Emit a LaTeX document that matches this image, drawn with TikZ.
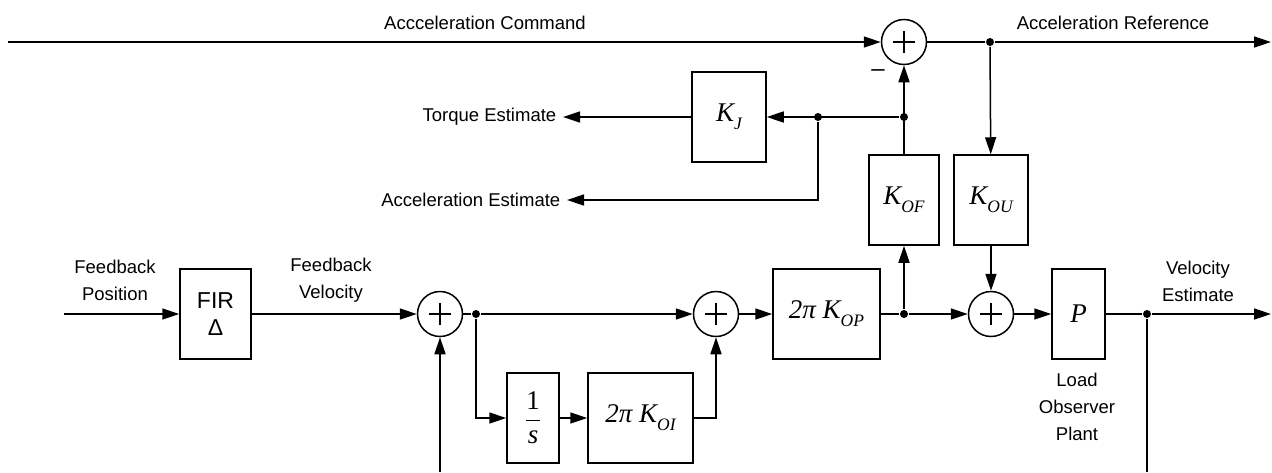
\documentclass[tikz,border=0pt]{standalone}
\usepackage{fontspec}
\setmainfont{Liberation Sans}
\newfontfamily\tms{Liberation Serif}
\usetikzlibrary{arrows.meta}

\newcommand{\gainsym}[2]{{\tms\itshape #1\raisebox{-0.3em}{\fontsize{17.5}{17.5}\selectfont #2}}}

\tikzset{
  blk/.style={draw, line width=1.5pt, minimum width=#1, minimum height=90pt,
    inner sep=0pt, font=\fontsize{27}{27}\selectfont},
  sumj/.style={circle, draw, line width=1.5pt, minimum size=45pt, inner sep=0pt,
    path picture={\draw[line width=1.2pt]
      ([xshift=-11pt]path picture bounding box.center) -- ([xshift=11pt]path picture bounding box.center)
      ([yshift=-11pt]path picture bounding box.center) -- ([yshift=11pt]path picture bounding box.center);}},
  jdot/.style={circle, fill, minimum size=8pt, inner sep=0pt},
  lbl/.style={font=\fontsize{18.5}{27}\selectfont, align=center}
}

\begin{document}
\begin{tikzpicture}[x=1pt, y=1pt, line width=1.5pt, >={Triangle[length=17pt,width=11pt]}]
\useasboundingbox (0,0) rectangle (1272,-472);

% summing points
\node[sumj] (sumacc) at (904,-42) {};
\node[sumj] (sumvel) at (440,-314) {};
\node[sumj] (sumint) at (716,-314) {};
\node[sumj] (sumplant) at (991,-314) {};

% blocks
\node[blk=71pt, font=\fontsize{23}{27}\selectfont, align=center] (fir) at (215.5,-314) {FIR\\Δ};
\node[blk=74pt] (kj) at (729,-117) {\gainsym{K}{J}};
\node[blk=70pt] (kof) at (904,-200) {\gainsym{K}{OF}};
\node[blk=74pt] (kou) at (991,-200) {\gainsym{K}{OU}};
\node[blk=107pt] (kop) at (826.5,-314) {\gainsym{2π K}{OP}};
\node[blk=53pt] (plant) at (1078.5,-314) {{\tms\itshape P}};
\node[blk=52pt] (integ) at (533,-418) {$\displaystyle\frac{\mbox{\tms 1}}{\mbox{\tms\itshape s}}$};
\node[blk=105pt] (koi) at (640.5,-418) {\gainsym{2π K}{OI}};

% branch points
\node[jdot] (jref) at (990,-42) {};
\node[jdot] (jfb) at (904,-117) {};
\node[jdot] (jacc) at (818,-117) {};
\node[jdot] (jint) at (476,-314) {};
\node[jdot] (jop) at (904,-314) {};
\node[jdot] (jvel) at (1147,-314) {};

\coordinate (cmdin) at (8,-42);
\coordinate (refout) at (1271,-42);
\coordinate (posin) at (64,-314);
\coordinate (velout) at (1271,-314);
\coordinate (velbot) at (1147,-472);
\coordinate (fbbot) at (440,-472);

% texts
\node[lbl] (cmdlbl) at (485,-23) {Accceleration Command};
\node[lbl] (reflbl) at (1113,-23) {Acceleration Reference};
\node[lbl, anchor=east, inner xsep=6pt] (torq) at (563,-117) {Torque Estimate};
\node[lbl, anchor=east, inner xsep=6pt] (accest) at (567,-200) {Acceleration Estimate};
\node[lbl] (poslbl) at (115,-280) {Feedback\\Position};
\node[lbl] (fblbl) at (331,-280) {Feedback\\Velocity};
\node[lbl] (vellbl) at (1198,-281) {Velocity\\Estimate};
\node[lbl] (plantlbl) at (1077,-407) {Load\\Observer\\Plant};
\node[lbl, font=\fontsize{24}{24}\selectfont] (minus) at (878,-73) {–};

% signal lines
\draw[->] (cmdin) -- (sumacc);
\draw (sumacc) -- (jref);
\draw[->] (jref) -- (refout);
\draw[->] (jref) -- (kou);
\draw[->] (kof) -- (sumacc);
\draw[->] (jfb) -- (kj);
\draw[->] (kj) -- (torq);
\draw[->] (jacc) |- (accest);
\draw[->] (posin) -- (fir);
\draw[->] (fir) -- (sumvel);
\draw (sumvel) -- (jint);
\draw[->] (jint) -- (sumint);
\draw[->] (jint) |- (integ);
\draw[->] (integ) -- (koi);
\draw[->] (koi) -| (sumint);
\draw[->] (sumint) -- (kop);
\draw (kop) -- (jop);
\draw[->] (jop) -- (sumplant);
\draw[->] (jop) -- (kof);
\draw[->] (kou) -- (sumplant);
\draw[->] (sumplant) -- (plant);
\draw (plant) -- (jvel);
\draw[->] (jvel) -- (velout);
\draw (velbot) -- (jvel);
\draw[->] (fbbot) -- (sumvel);
\end{tikzpicture}
\end{document}
